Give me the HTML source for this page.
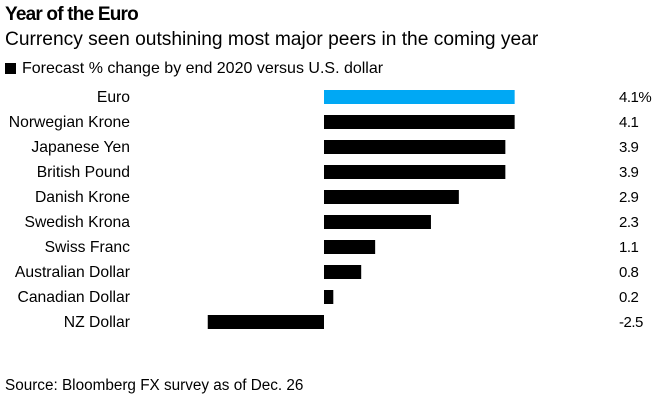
<!DOCTYPE html>
<html><head><meta charset="utf-8"><style>
body{margin:0;width:668px;height:400px;background:#fff;font-family:"Liberation Sans",sans-serif;overflow:hidden;position:relative}
.t{position:absolute;white-space:nowrap;color:#000}
</style></head><body>
<div class="t" style="left:5px;top:4px;font-size:19px;font-weight:bold;letter-spacing:-0.8px">Year of the Euro</div>
<div class="t" style="left:5px;top:29px;font-size:19.2px;letter-spacing:0px">Currency seen outshining most major peers in the coming year</div>
<div class="t" style="left:5px;top:60px;font-size:16px;letter-spacing:0px"><span style="display:inline-block;width:11px;height:11px;background:#000;margin-right:6px;vertical-align:-1px"></span>Forecast % change by end 2020 versus U.S. dollar</div>
<svg id="c" width="668" height="400" style="position:absolute;left:0;top:0"></svg>
<div class="t" style="left:5px;top:377px;font-size:15.3px;letter-spacing:0px">Source: Bloomberg FX survey as of Dec. 26</div>
<script>
const categories=["Euro","Norwegian Krone","Japanese Yen","British Pound","Danish Krone","Swedish Krona","Swiss Franc","Australian Dollar","Canadian Dollar","NZ Dollar"];
const values=[4.1,4.1,3.9,3.9,2.9,2.3,1.1,0.8,0.2,-2.5];
const valueLabels=["4.1%","4.1","3.9","3.9","2.9","2.3","1.1","0.8","0.2","-2.5"];
const svg=document.getElementById('c');const NS='http://www.w3.org/2000/svg';
const x=v=>324+v*46.5;const y=i=>97+i*25;
categories.forEach((c,i)=>{
 const v=values[i];
 const r=document.createElementNS(NS,'rect');
 r.setAttribute('x',Math.min(x(0),x(v)));r.setAttribute('y',y(i)-7);
 r.setAttribute('width',Math.abs(x(v)-x(0)));r.setAttribute('height',14);
 r.setAttribute('fill',i===0?'#00a8f4':'#000');
 
 
 svg.appendChild(r);
 const l=document.createElementNS(NS,'text');
 l.setAttribute('x',130);l.setAttribute('y',y(i)+5);l.setAttribute('text-anchor','end');
 l.setAttribute('font-size','15.7');l.setAttribute('letter-spacing','0');l.textContent=c;
 
 
 svg.appendChild(l);
 const t=document.createElementNS(NS,'text');
 t.setAttribute('x',619);t.setAttribute('y',y(i)+5);
 t.setAttribute('font-size','15');t.setAttribute('letter-spacing','-0.5');t.textContent=valueLabels[i];
 
 
 svg.appendChild(t);
});
</script>
</body></html>
